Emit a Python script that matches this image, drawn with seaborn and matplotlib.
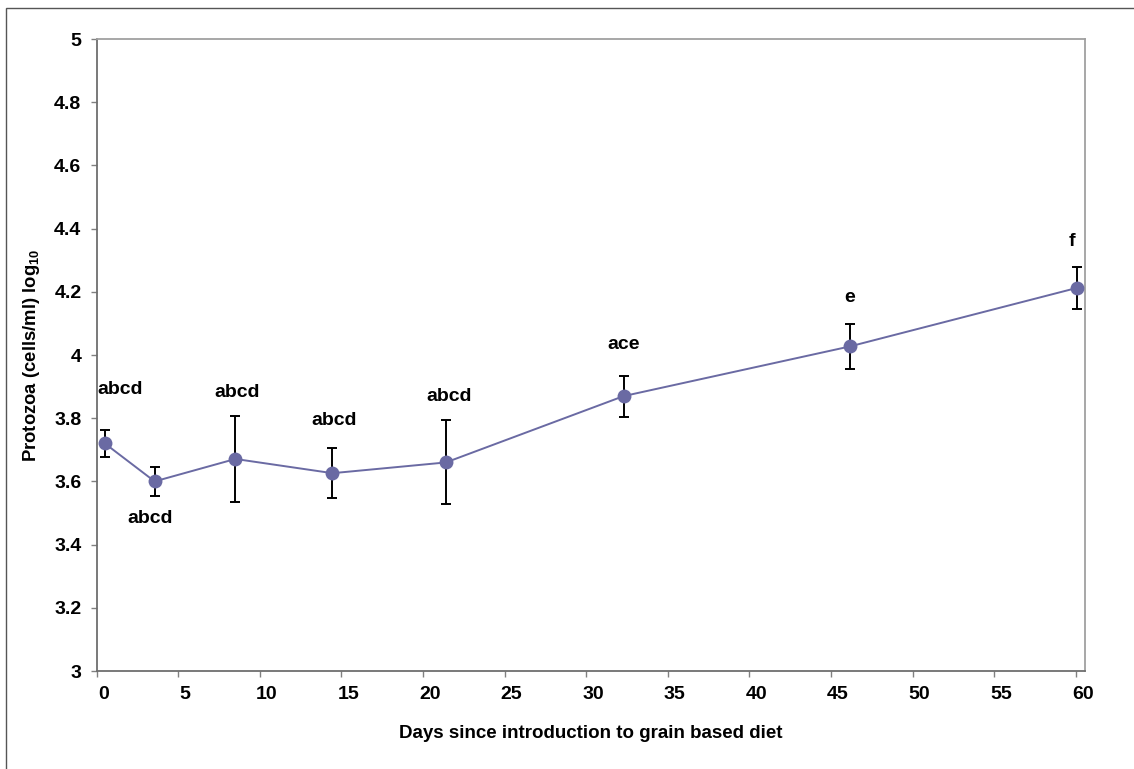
import matplotlib
matplotlib.use("Agg")
import matplotlib.pyplot as plt
import matplotlib.transforms as mtransforms
import seaborn as sns
import pandas as pd
from matplotlib.patches import Rectangle

# ---- data ----
days = [0.5, 3.55, 8.5, 14.45, 21.4, 32.3, 46.15, 60.05]
protozoa = [3.72, 3.60, 3.671, 3.626, 3.660, 3.870, 4.027, 4.212]
err = [0.042, 0.046, 0.137, 0.080, 0.133, 0.065, 0.071, 0.065]
letters = ["abcd", "abcd", "abcd", "abcd", "abcd", "ace", "e", "f"]
x_ticks = [0, 5, 10, 15, 20, 25, 30, 35, 40, 45, 50, 55, 60]
y_ticks = [3, 3.2, 3.4, 3.6, 3.8, 4, 4.2, 4.4, 4.6, 4.8, 5]
y_tick_labels = ["3", "3.2", "3.4", "3.6", "3.8", "4", "4.2", "4.4", "4.6", "4.8", "5"]

# label offsets (points) relative to the end of each error bar
label_dx = [11, -3.5, 1, 1.5, 2, 0, 0, -3.5]
label_dy = [29, -16, 17, 20, 17, 22, 19, 19]

df = pd.DataFrame({"day": days, "val": protozoa})

sns.set_theme(style="white")
plt.rcParams["font.family"] = ["Liberation Sans", "DejaVu Sans"]
plt.rcParams["mathtext.default"] = "regular"

fig = plt.figure(figsize=(11.34, 7.69), dpi=100)
ax = fig.add_axes([96.7 / 1134, 1 - 671 / 769, (1085 - 96.7) / 1134, (671 - 39) / 769])

line_color = "#6a6aa3"
ax.errorbar(days, protozoa, yerr=err, fmt="none", ecolor="black",
            elinewidth=1.4, capsize=3.5, capthick=1.4, zorder=2)
sns.lineplot(data=df, x="day", y="val", ax=ax, color=line_color, lw=1.4,
             marker="o", markersize=10, markeredgewidth=0,
             markerfacecolor=line_color, zorder=3)

for i, txt in enumerate(letters):
    if label_dy[i] < 0:
        base = protozoa[i] - err[i]
    else:
        base = protozoa[i] + err[i]
    ax.annotate(txt, (days[i], base), xytext=(label_dx[i], label_dy[i]),
                textcoords="offset points", ha="center", va="center",
                fontsize=14, fontweight="bold", color="black")

ax.set_xlim(0, 60.57)
ax.set_ylim(3, 5)
ax.set_xticks(x_ticks)
ax.set_xticklabels([str(t) for t in x_ticks])
ax.set_yticks(y_ticks)
ax.set_yticklabels(y_tick_labels)

ax.tick_params(axis="both", direction="out", length=4, width=1, color="#808080",
               bottom=True, left=True)
ax.tick_params(axis="x", pad=7)
ax.tick_params(axis="y", pad=7)

for lab in ax.get_xticklabels() + ax.get_yticklabels():
    lab.set_fontweight("bold")
    lab.set_fontsize(14)
    lab.set_color("black")

shift = mtransforms.ScaledTranslation(7 / 100, 0, fig.dpi_scale_trans)
for tick in ax.xaxis.get_major_ticks():
    tick.label1.set_transform(tick.label1.get_transform() + shift)

for side in ["left", "bottom"]:
    ax.spines[side].set_color("#6e6e6e")
    ax.spines[side].set_linewidth(1.3)
for side in ["top", "right"]:
    ax.spines[side].set_color("#a0a0a0")
    ax.spines[side].set_linewidth(1.3)
    ax.spines[side].set_visible(True)

ax.set_xlabel("Days since introduction to grain based diet", fontsize=13.5,
              fontweight="bold", labelpad=16, color="black")
ax.set_ylabel("Protozoa (cells/ml) log$_{10}$", fontsize=13.3,
              fontweight="bold", labelpad=9, color="black")

# outer border
fig.patches.append(Rectangle((6 / 1134, -0.05), 1.2, 1 - 8 / 769 + 0.05,
                             transform=fig.transFigure, fill=False,
                             edgecolor="#555555", lw=1.0))

fig.savefig("out.png", dpi=100, facecolor="white")
